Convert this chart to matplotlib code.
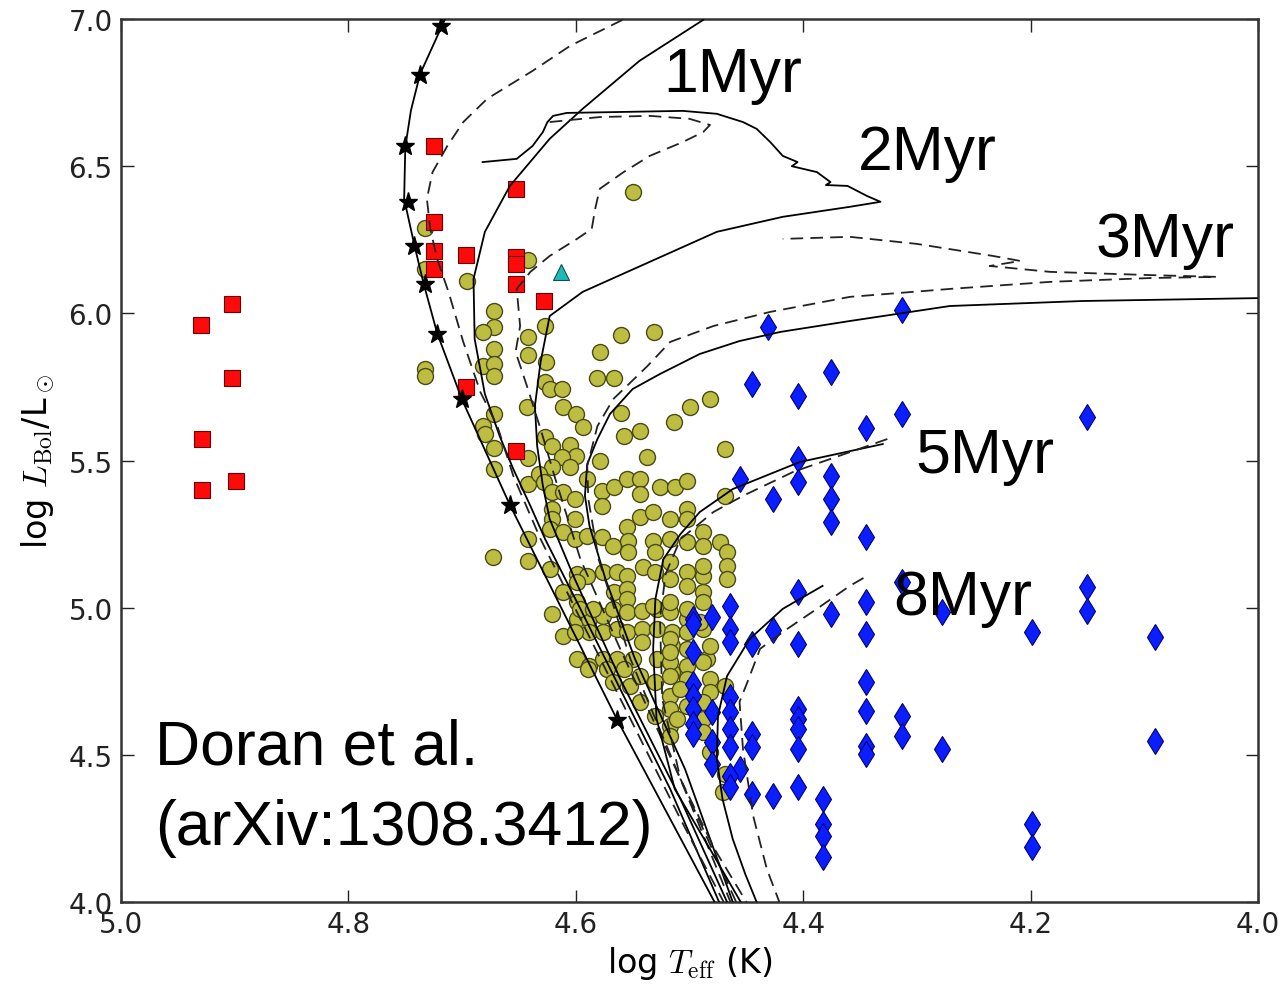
import matplotlib.pyplot as plt

plt.rcParams['mathtext.fontset'] = 'cm'
plt.rcParams['font.family'] = ['DejaVu Sans']

# --- isochrones (log Teff, log L) ---
zams_T = [4.715, 4.737, 4.745, 4.750, 4.751, 4.742, 4.734, 4.722, 4.700, 4.658, 4.564, 4.478]
zams_L = [7.00, 6.813, 6.69, 6.565, 6.389, 6.232, 6.103, 5.933, 5.706, 5.349, 4.622, 4.0]

star_T = [4.719, 4.737, 4.750, 4.748, 4.742, 4.733, 4.722, 4.700, 4.658, 4.564]
star_L = [6.977, 6.81, 6.57, 6.38, 6.23, 6.10, 5.93, 5.71, 5.35, 4.62]

iso1_dash_T = [4.559, 4.605, 4.638, 4.678, 4.699, 4.713, 4.726, 4.731, 4.728, 4.722, 4.712,
               4.699, 4.684, 4.669, 4.655, 4.631, 4.596, 4.552, 4.508, 4.470]
iso1_dash_L = [6.997, 6.909, 6.824, 6.729, 6.650, 6.569, 6.480, 6.389, 6.287, 6.185, 6.073,
               5.903, 5.733, 5.617, 5.448, 5.233, 4.962, 4.622, 4.282, 4.0]

iso1_T = [4.488, 4.544, 4.594, 4.623, 4.658, 4.680, 4.690, 4.689, 4.680, 4.667, 4.655,
          4.640, 4.627, 4.596, 4.561, 4.517, 4.474]
iso1_L = [6.997, 6.858, 6.695, 6.593, 6.433, 6.277, 6.117, 5.913, 5.726, 5.583, 5.471,
          5.346, 5.233, 4.996, 4.724, 4.384, 4.0]

iso2_T = [4.682, 4.652, 4.638, 4.629, 4.625, 4.620, 4.608, 4.564, 4.506, 4.476, 4.453,
          4.441, 4.429, 4.418, 4.405, 4.410, 4.388, 4.376, 4.380, 4.361, 4.344, 4.332,
          4.359, 4.418, 4.476, 4.535, 4.594, 4.623, 4.631, 4.636, 4.634, 4.629, 4.623,
          4.601, 4.561, 4.508, 4.467]
iso2_L = [6.514, 6.525, 6.569, 6.616, 6.650, 6.671, 6.681, 6.684, 6.688, 6.678, 6.650,
          6.627, 6.582, 6.535, 6.514, 6.500, 6.480, 6.446, 6.436, 6.433, 6.399, 6.379,
          6.362, 6.328, 6.277, 6.175, 6.073, 5.991, 5.835, 5.685, 5.549, 5.414, 5.301,
          5.098, 4.758, 4.350, 4.0]

iso2_dash_T = [4.623, 4.579, 4.535, 4.500, 4.482, 4.488, 4.506, 4.535, 4.558, 4.579, 4.583,
               4.586, 4.599, 4.623, 4.640, 4.652, 4.649, 4.653, 4.643, 4.631, 4.618, 4.596,
               4.561, 4.508, 4.464]
iso2_dash_L = [6.650, 6.667, 6.671, 6.661, 6.640, 6.616, 6.582, 6.535, 6.480, 6.423, 6.355,
               6.287, 6.253, 6.195, 6.141, 6.083, 5.957, 5.869, 5.753, 5.607, 5.437, 5.165,
               4.860, 4.418, 4.0]

iso3_T = [3.95, 4.154, 4.271, 4.359, 4.420, 4.456, 4.491, 4.526, 4.550, 4.570, 4.581,
          4.590, 4.592, 4.588, 4.574, 4.548, 4.504, 4.462]
iso3_L = [6.055, 6.042, 6.025, 5.974, 5.937, 5.906, 5.862, 5.794, 5.743, 5.658, 5.573,
          5.488, 5.380, 5.278, 5.098, 4.826, 4.452, 4.0]

iso3_dash_T = [4.459, 4.508, 4.552, 4.580, 4.589, 4.590, 4.581, 4.567, 4.537, 4.517, 4.479,
               4.429, 4.359, 4.271, 4.183, 4.095, 4.036, 4.095, 4.183, 4.236, 4.209, 4.233,
               4.300, 4.359, 4.418]
iso3_dash_L = [4.0, 4.418, 4.826, 5.165, 5.369, 5.481, 5.617, 5.709, 5.821, 5.903, 5.957,
               6.005, 6.056, 6.083, 6.107, 6.120, 6.124, 6.130, 6.141, 6.161, 6.178, 6.195,
               6.236, 6.260, 6.253]

iso5_T = [4.330, 4.403, 4.462, 4.491, 4.508, 4.523, 4.530, 4.532, 4.529, 4.513, 4.482, 4.455]
iso5_L = [5.556, 5.495, 5.403, 5.325, 5.250, 5.165, 5.030, 4.860, 4.622, 4.384, 4.180, 4.0]

iso5_dash_T = [4.326, 4.409, 4.453, 4.479, 4.508, 4.521, 4.526, 4.524, 4.508, 4.478, 4.450]
iso5_dash_L = [5.573, 5.461, 5.380, 5.325, 5.233, 5.115, 4.962, 4.690, 4.418, 4.180, 4.0]

iso8_T = [4.383, 4.418, 4.447, 4.467, 4.475, 4.476, 4.471, 4.462, 4.451, 4.441]
iso8_L = [5.074, 4.996, 4.894, 4.768, 4.632, 4.486, 4.350, 4.214, 4.095, 4.0]

iso8_dash_T = [4.347, 4.359, 4.388, 4.414, 4.438, 4.449, 4.456, 4.453, 4.444, 4.432, 4.421]
iso8_dash_L = [5.101, 5.074, 4.996, 4.928, 4.860, 4.748, 4.680, 4.520, 4.292, 4.112, 4.0]

# --- stars ---
red_T = [4.930, 4.902, 4.902, 4.929, 4.929, 4.899, 4.725, 4.725, 4.725, 4.725, 4.697,
         4.653, 4.653, 4.653, 4.653, 4.628, 4.697, 4.653]
red_L = [5.961, 6.032, 5.781, 5.573, 5.400, 5.431, 6.569, 6.311, 6.212, 6.151, 6.198,
         6.423, 6.192, 6.168, 6.100, 6.042, 5.750, 5.532]

cyan_T = [4.613]
cyan_L = [6.14]

blue_T = [4.431, 4.313, 4.445, 4.376, 4.405, 4.313, 4.150, 4.345, 4.405, 4.456, 4.405,
          4.376, 4.427, 4.376, 4.376, 4.345, 4.405, 4.313, 4.150, 4.150, 4.464, 4.480,
          4.497, 4.497, 4.376, 4.345, 4.278, 4.427, 4.464, 4.464, 4.445, 4.405, 4.345,
          4.199, 4.091, 4.497, 4.345, 4.345, 4.313, 4.313, 4.278, 4.091, 4.345, 4.345,
          4.405, 4.405, 4.405, 4.405, 4.445, 4.445, 4.497, 4.497, 4.497, 4.497, 4.497,
          4.480, 4.480, 4.480, 4.464, 4.464, 4.464, 4.464, 4.456, 4.464, 4.464, 4.445,
          4.427, 4.405, 4.383, 4.383, 4.383, 4.383, 4.199, 4.199]
blue_L = [5.954, 6.010, 5.760, 5.801, 5.719, 5.658, 5.648, 5.611, 5.505, 5.437, 5.427,
          5.448, 5.369, 5.369, 5.291, 5.240, 5.053, 5.087, 5.070, 4.989, 5.007, 4.970,
          4.962, 4.945, 4.979, 5.019, 4.986, 4.924, 4.928, 4.884, 4.877, 4.877, 4.911,
          4.917, 4.900, 4.850, 4.748, 4.649, 4.632, 4.564, 4.520, 4.547, 4.530, 4.503,
          4.656, 4.622, 4.588, 4.520, 4.571, 4.527, 4.741, 4.700, 4.656, 4.605, 4.571,
          4.646, 4.544, 4.469, 4.697, 4.646, 4.588, 4.527, 4.452, 4.428, 4.391, 4.367,
          4.360, 4.391, 4.350, 4.265, 4.224, 4.153, 4.265, 4.187]

yel_T = [4.550, 4.733, 4.733, 4.642, 4.696, 4.672, 4.672, 4.682, 4.672, 4.682, 4.672,
         4.672, 4.733, 4.733, 4.627, 4.642, 4.642, 4.626, 4.627, 4.623, 4.612, 4.643,
         4.611, 4.600, 4.594, 4.579, 4.560, 4.531, 4.581, 4.566, 4.560, 4.558, 4.544,
         4.514, 4.500, 4.482, 4.537, 4.469, 4.579, 4.672, 4.682, 4.680, 4.672, 4.672,
         4.627, 4.621, 4.605, 4.600, 4.612, 4.605, 4.621, 4.642, 4.642, 4.632, 4.628,
         4.621, 4.611, 4.601, 4.601, 4.621, 4.621, 4.590, 4.577, 4.577, 4.566, 4.555,
         4.544, 4.544, 4.544, 4.532, 4.526, 4.513, 4.502, 4.502, 4.517, 4.555, 4.642,
         4.673, 4.469, 4.642, 4.623, 4.623, 4.611, 4.601, 4.590, 4.577, 4.567, 4.554,
         4.554, 4.502, 4.517, 4.488, 4.488, 4.473, 4.467, 4.467, 4.467, 4.532, 4.530,
         4.599, 4.590, 4.576, 4.564, 4.555, 4.541, 4.530, 4.517, 4.502, 4.488, 4.488,
         4.502, 4.488, 4.611, 4.599, 4.566, 4.555, 4.555, 4.621, 4.599, 4.588, 4.576,
         4.567, 4.555, 4.542, 4.529, 4.517, 4.502, 4.588, 4.576, 4.564, 4.555, 4.542,
         4.542, 4.529, 4.515, 4.515, 4.502, 4.502, 4.485, 4.599, 4.588, 4.576, 4.564,
         4.550, 4.529, 4.515, 4.502, 4.611, 4.601, 4.573, 4.567, 4.552, 4.544, 4.558,
         4.544, 4.530, 4.530, 4.517, 4.517, 4.517, 4.517, 4.502, 4.488, 4.482, 4.482,
         4.482, 4.488, 4.488, 4.508, 4.469, 4.482, 4.469, 4.471, 4.532, 4.517, 4.517,
         4.517, 4.502, 4.511, 4.599, 4.589, 4.517, 4.517, 4.502, 4.488, 4.488, 4.491,
         4.596, 4.585, 4.517, 4.488, 4.502]
yel_L = [6.412, 6.290, 6.151, 6.181, 6.110, 6.008, 5.954, 5.937, 5.879, 5.821, 5.828,
         5.787, 5.811, 5.787, 5.957, 5.920, 5.859, 5.835, 5.767, 5.743, 5.743, 5.682,
         5.682, 5.658, 5.614, 5.869, 5.927, 5.937, 5.780, 5.780, 5.662, 5.583, 5.600,
         5.631, 5.682, 5.709, 5.512, 5.539, 5.498, 5.658, 5.617, 5.590, 5.543, 5.471,
         5.580, 5.549, 5.553, 5.515, 5.512, 5.478, 5.478, 5.509, 5.420, 5.454, 5.427,
         5.393, 5.393, 5.369, 5.301, 5.335, 5.301, 5.437, 5.397, 5.346, 5.410, 5.437,
         5.437, 5.386, 5.308, 5.325, 5.410, 5.410, 5.431, 5.335, 5.301, 5.274, 5.233,
         5.172, 5.380, 5.159, 5.132, 5.267, 5.257, 5.233, 5.244, 5.240, 5.210, 5.227,
         5.189, 5.223, 5.233, 5.257, 5.210, 5.223, 5.189, 5.142, 5.098, 5.227, 5.189,
         5.115, 5.108, 5.121, 5.121, 5.108, 5.138, 5.121, 5.098, 5.121, 5.108, 5.053,
         5.074, 5.019, 5.053, 5.019, 5.053, 5.064, 5.030, 4.979, 4.962, 4.962, 4.972,
         4.996, 4.986, 4.989, 4.996, 4.986, 4.962, 4.917, 4.917, 4.928, 4.917, 4.928,
         4.883, 4.928, 4.917, 4.870, 4.917, 4.860, 4.826, 4.826, 4.802, 4.826, 4.826,
         4.826, 4.826, 4.782, 4.802, 4.904, 4.917, 4.792, 4.748, 4.734, 4.680, 4.792,
         4.768, 4.748, 4.632, 4.700, 4.656, 4.598, 4.564, 4.758, 4.928, 4.870, 4.758,
         4.714, 4.622, 4.578, 4.724, 4.734, 4.510, 4.435, 4.374, 5.006, 4.894, 4.816,
         4.768, 4.666, 4.622, 5.087, 4.792, 5.019, 4.849, 4.996, 4.816, 4.680, 4.951,
         4.996, 4.996, 5.155, 5.142, 5.301]

labels = ['1Myr', '2Myr', '3Myr', '5Myr', '8Myr']
label_T = [4.523, 4.352, 4.143, 4.301, 4.321]
label_L = [6.756, 6.491, 6.195, 5.461, 4.979]

fig = plt.figure(figsize=(12.85, 9.87), dpi=100)
ax = fig.add_axes([0.0942, 0.0851, 0.8848, 0.8946])

ax.plot(yel_T, yel_L, 'o', ms=11.5, mfc='#bdbd42', mec='#4a4a18', mew=1.0, zorder=2)
ax.plot(blue_T, blue_L, 'd', ms=13, mfc='#0a1eff', mec='#00007a', mew=0.8, zorder=2)
ax.plot(red_T, red_L, 's', ms=12, mfc='#ff0a0a', mec='#6a0000', mew=0.8, zorder=2)
ax.plot(cyan_T, cyan_L, '^', ms=11, mfc='#23b8b8', mec='#0c4f4f', mew=0.8, zorder=2)

solid = dict(color='black', lw=1.3, zorder=3)
dashed = dict(color='#222222', lw=1.3, ls=(0, (7, 4)), zorder=3)
ax.plot(zams_T, zams_L, **solid)
ax.plot(star_T, star_L, '*', ms=14, color='black', zorder=4)
ax.plot(iso1_T, iso1_L, **solid)
ax.plot(iso1_dash_T, iso1_dash_L, **dashed)
ax.plot(iso2_T, iso2_L, **solid)
ax.plot(iso2_dash_T, iso2_dash_L, **dashed)
ax.plot(iso3_T, iso3_L, **solid)
ax.plot(iso3_dash_T, iso3_dash_L, **dashed)
ax.plot(iso5_T, iso5_L, **solid)
ax.plot(iso5_dash_T, iso5_dash_L, **dashed)
ax.plot(iso8_T, iso8_L, **solid)
ax.plot(iso8_dash_T, iso8_dash_L, **dashed)

for txt, t, l in zip(labels, label_T, label_L):
    ax.text(t, l, txt, fontsize=45, family='Liberation Sans', va='baseline', ha='left', zorder=5)

ax.text(4.970, 4.469, 'Doran et al.', fontsize=45, family='Liberation Sans', va='baseline', zorder=5)
ax.text(4.970, 4.197, '(arXiv:1308.3412)', fontsize=45, family='Liberation Sans', va='baseline', zorder=5)

ax.set_xlim(5.0, 4.0)
ax.set_ylim(4.0, 7.0)
ax.set_xticks([5.0, 4.8, 4.6, 4.4, 4.2, 4.0])
ax.set_yticks([4.0, 4.5, 5.0, 5.5, 6.0, 6.5, 7.0])
ax.set_xticklabels(['5.0', '4.8', '4.6', '4.4', '4.2', '4.0'])
ax.set_yticklabels(['4.0', '4.5', '5.0', '5.5', '6.0', '6.5', '7.0'])
ax.tick_params(direction='in', length=9, width=1, top=True, right=True, labelsize=20, pad=6,
               colors='#222222')
for s in ax.spines.values():
    s.set_linewidth(1.8)
    s.set_color('#333333')

ax.set_xlabel(r'log $T_{\rm eff}$ (K)', fontsize=24, labelpad=4)
ax.set_ylabel(r'log $L_{\rm Bol}$/L$_\odot$', fontsize=24, labelpad=8)

fig.savefig('out.png', dpi=100)
